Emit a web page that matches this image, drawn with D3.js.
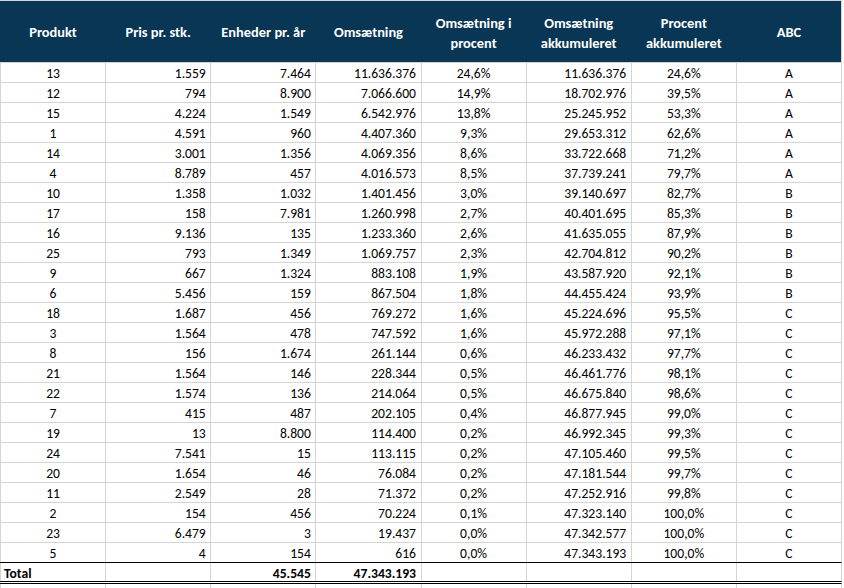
<!DOCTYPE html>
<html>
<head>
<meta charset="utf-8">
<script src="https://cdn.jsdelivr.net/npm/d3@7"></script>
<style>
  html, body { margin: 0; padding: 0; background: #ffffff; }
  svg { display: block; }
  text { font-family: "Carlito", "Lato", "Noto Sans", sans-serif; }
</style>
</head>
<body>
<svg id="chart" width="844" height="588"></svg>
<script>
const headers = [
  ["Produkt"],
  ["Pris pr. stk."],
  ["Enheder pr. år"],
  ["Omsætning"],
  ["Omsætning i", "procent"],
  ["Omsætning", "akkumuleret"],
  ["Procent", "akkumuleret"],
  ["ABC"]
];
const produkt = [13,12,15,1,14,4,10,17,16,25,9,6,18,3,8,21,22,7,19,24,20,11,2,23,5];
const pris = [1559,794,4224,4591,3001,8789,1358,158,9136,793,667,5456,1687,1564,156,1564,1574,415,13,7541,1654,2549,154,6479,4];
const enheder = [7464,8900,1549,960,1356,457,1032,7981,135,1349,1324,159,456,478,1674,146,136,487,8800,15,46,28,456,3,154];
const omsaetning = [11636376,7066600,6542976,4407360,4069356,4016573,1401456,1260998,1233360,1069757,883108,867504,769272,747592,261144,228344,214064,202105,114400,113115,76084,71372,70224,19437,616];
const procent = [24.6,14.9,13.8,9.3,8.6,8.5,3.0,2.7,2.6,2.3,1.9,1.8,1.6,1.6,0.6,0.5,0.5,0.4,0.2,0.2,0.2,0.2,0.1,0.0,0.0];
const akkumuleret = [11636376,18702976,25245952,29653312,33722668,37739241,39140697,40401695,41635055,42704812,43587920,44455424,45224696,45972288,46233432,46461776,46675840,46877945,46992345,47105460,47181544,47252916,47323140,47342577,47343193];
const procentAkk = [24.6,39.5,53.3,62.6,71.2,79.7,82.7,85.3,87.9,90.2,92.1,93.9,95.5,97.1,97.7,98.1,98.6,99.0,99.3,99.5,99.7,99.8,100.0,100.0,100.0];
const abc = ["A","A","A","A","A","A","B","B","B","B","B","B","C","C","C","C","C","C","C","C","C","C","C","C","C"];
const totalLabel = "Total";
const totalEnheder = 45545;
const totalOmsaetning = 47343193;

// ---- Formatting (Danish) ----
const dk = d3.formatLocale({decimal: ",", thousands: ".", grouping: [3], currency: ["", " kr"]});
const fInt = dk.format(",d");
const fPct = v => dk.format(",.1f")(v) + "%";

const columns = [
  {vals: produkt, fmt: d => String(d), align: "middle"},
  {vals: pris, fmt: fInt, align: "end"},
  {vals: enheder, fmt: fInt, align: "end"},
  {vals: omsaetning, fmt: fInt, align: "end"},
  {vals: procent, fmt: fPct, align: "middle"},
  {vals: akkumuleret, fmt: fInt, align: "end"},
  {vals: procentAkk, fmt: fPct, align: "middle"},
  {vals: abc, fmt: d => d, align: "middle"}
];

// ---- Layout ----
const svg = d3.select("#chart");
const W = 844, H = 588;
const nCols = columns.length;
const nRows = produkt.length;
const x = d3.scaleLinear().domain([0, nCols]).range([0.5, 841.5]);
const headerTop = 1, headerBottom = 62;
const y = d3.scaleBand().domain(d3.range(nRows)).range([headerBottom, headerBottom + 20 * nRows]).padding(0);
const totalTop = headerBottom + 20 * nRows;   // 562
const totalBottom = totalTop + 20;            // 582
const grid = "#d4d4d4";
const bodySize = "13.6px";
const headSize = "14.4px";

const px = v => Math.round(v - 0.5) + 0.5;

// background grid (vertical lines spanning full height)
svg.append("g").selectAll("line").data(d3.range(nCols + 1)).join("line")
  .attr("x1", d => px(x(d))).attr("x2", d => px(x(d)))
  .attr("y1", 0).attr("y2", H)
  .attr("stroke", grid).attr("stroke-width", 1);

// horizontal grid lines
svg.append("g").selectAll("line").data(d3.range(1, nRows)).join("line")
  .attr("x1", 0).attr("x2", px(x(nCols)))
  .attr("y1", d => y(d) + 0.5).attr("y2", d => y(d) + 0.5)
  .attr("stroke", grid).attr("stroke-width", 1);
svg.append("line")
  .attr("x1", 0).attr("x2", px(x(nCols)))
  .attr("y1", headerBottom + 0.5).attr("y2", headerBottom + 0.5)
  .attr("stroke", grid);
svg.append("line")
  .attr("x1", 0).attr("x2", px(x(nCols)))
  .attr("y1", 0.5).attr("y2", 0.5)
  .attr("stroke", grid);

// header background
svg.append("rect")
  .attr("x", 0).attr("y", headerTop)
  .attr("width", x(nCols) - 0.5).attr("height", headerBottom - headerTop)
  .attr("fill", "#083654");

// header text
const hg = svg.append("g");
headers.forEach((lines, i) => {
  const cx = (x(i) + x(i + 1)) / 2;
  const t = hg.append("text")
    .attr("x", cx)
    .attr("text-anchor", "middle")
    .attr("fill", "#ffffff")
    .attr("font-weight", "bold")
    .attr("font-size", headSize);
  if (lines.length === 1) {
    t.attr("y", 37).text(lines[0]);
  } else {
    lines.forEach((ln, j) => {
      t.append("tspan").attr("x", cx).attr("y", 27.5 + j * 20).text(ln);
    });
  }
});

// body cells
const body = svg.append("g").attr("font-size", bodySize).attr("fill", "#000");
columns.forEach((col, ci) => {
  const tx = col.align === "end" ? x(ci + 1) - 5 : (x(ci) + x(ci + 1)) / 2;
  body.append("g").selectAll("text").data(col.vals).join("text")
    .attr("x", tx)
    .attr("y", (d, i) => y(i) + 16)
    .attr("text-anchor", col.align)
    .text(d => col.fmt(d));
});

// total row borders
svg.append("line")
  .attr("x1", 0).attr("x2", px(x(nCols)))
  .attr("y1", totalTop + 0.5).attr("y2", totalTop + 0.5)
  .attr("stroke", "#000").attr("stroke-width", 1.2);
[totalBottom - 0.5, totalBottom + 1.5].forEach(yy => {
  svg.append("line")
    .attr("x1", 0).attr("x2", px(x(nCols)))
    .attr("y1", yy).attr("y2", yy)
    .attr("stroke", "#000").attr("stroke-width", 1);
});
// white gap between double lines
svg.append("line")
  .attr("x1", 0).attr("x2", px(x(nCols)))
  .attr("y1", totalBottom + 0.5).attr("y2", totalBottom + 0.5)
  .attr("stroke", "#ffffff").attr("stroke-width", 1);

// total row text
const tg = svg.append("g").attr("font-size", bodySize).attr("font-weight", "bold").attr("fill", "#000");
tg.append("text").attr("x", 4).attr("y", totalTop + 16).text(totalLabel);
tg.append("text").attr("x", x(3) - 5).attr("y", totalTop + 16).attr("text-anchor", "end").text(fInt(totalEnheder));
tg.append("text").attr("x", x(4) - 5).attr("y", totalTop + 16).attr("text-anchor", "end").text(fInt(totalOmsaetning));
</script>
</body>
</html>
